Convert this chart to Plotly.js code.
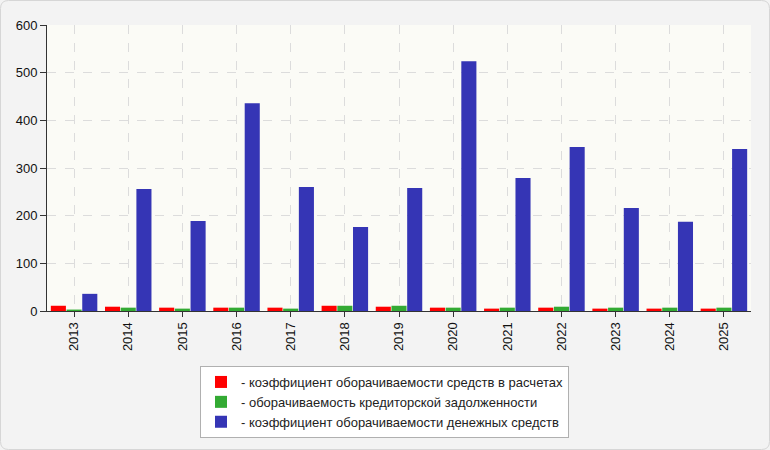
<!DOCTYPE html>
<html><head><meta charset="utf-8">
<script src="https://cdn.plot.ly/plotly-3.0.1.min.js"></script>
<style>body{margin:0;background:#fff}#c{width:770px;height:450px}</style>
</head><body><div id="c"></div>
<script>
var years = ['2013','2014','2015','2016','2017','2018','2019','2020','2021','2022','2023','2024','2025'];
var seriesNames = ['- коэффициент оборачиваемости средств в расчетах','- оборачиваемость кредиторской задолженности','- коэффициент оборачиваемости денежных средств'];
var receivablesTurnover = [11, 9, 7, 7, 7, 11, 9, 7, 5, 7, 5, 5, 5];
var payablesTurnover = [3, 7, 5, 7, 5, 11, 11, 7, 7, 9, 7, 7, 7];
var cashTurnover = [36, 256, 189, 436, 260, 176, 258, 524, 279, 344, 216, 187, 340];
var yTicks = [0, 100, 200, 300, 400, 500, 600];

var colors = ['#ff0000', '#33aa33', '#3535b5'];
var vals = [receivablesTurnover, payablesTurnover, cashTurnover];
var traces = vals.map(function(v, i){
  return {type:'bar', x: years, y: v, name: seriesNames[i], marker:{color: colors[i], line:{width:0}}, hoverinfo:'y'};
});

var W = 770, H = 450, r = 8;
var pl = 47, pr = 19, pt = 25, pb = 139;
var pw = W - pl - pr, ph = H - pt - pb;

var layout = {
  width: W, height: H,
  margin: {l:pl, r:pr, t:pt, b:pb},
  paper_bgcolor: '#f3f3f3',
  plot_bgcolor: '#fbfbf6',
  font: {family: '"Liberation Sans", Arial, sans-serif', size: 13, color: '#111'},
  barmode: 'group',
  bargap: 0.13,
  bargroupgap: 0.04,
  showlegend: true,
  legend: {x: (384.5 - pl)/pw, xanchor: 'center', y: (H - pb - 366)/ph, yanchor: 'top', bgcolor: '#ffffff', bordercolor: '#b0b0b0', borderwidth: 1, font: {size: 13, color: '#222'}, tracegroupgap: 0, itemwidth: 30},
  xaxis: {type:'category', tickangle: -90, showline: true, linecolor: '#333', linewidth: 1, ticks: 'outside', ticklen: 5, tickcolor: '#333',
          showgrid: true, gridcolor: '#dcdcdc', griddash: 'dash', gridwidth: 1, range: [-0.5, 12.5], tickfont:{size:13, color:'#111'}},
  yaxis: {range: [0, 600], tickvals: yTicks, showline: true, linecolor: '#333', linewidth: 1, ticks: 'outside', ticklen: 6, tickcolor: '#333',
          showgrid: true, gridcolor: '#dcdcdc', griddash: 'dash', gridwidth: 1, zeroline: false, tickfont:{size:13, color:'#111'}},
  shapes: []
};
(function(){
  function fx(px){ return (px - pl)/pw; }
  function fy(py){ return (H - pb - py)/ph; }
  var x0 = fx(0.5), x1 = fx(W-0.5), y0 = fy(H-0.5), y1 = fy(0.5);
  var dx = r/pw, dy = r/ph;
  var p = 'M '+(x0+dx)+' '+y1+' L '+(x1-dx)+' '+y1+' Q '+x1+' '+y1+' '+x1+' '+(y1-dy)+
    ' L '+x1+' '+(y0+dy)+' Q '+x1+' '+y0+' '+(x1-dx)+' '+y0+' L '+(x0+dx)+' '+y0+' Q '+x0+' '+y0+' '+x0+' '+(y0+dy)+
    ' L '+x0+' '+(y1-dy)+' Q '+x0+' '+y1+' '+(x0+dx)+' '+y1+' Z';
  layout.shapes.push({type:'path', xref:'paper', yref:'paper', path: p, line:{color:'#d6d6d6', width:1}, fillcolor:'rgba(0,0,0,0)', layer:'below'});
})();
Plotly.newPlot('c', traces, layout, {displayModeBar: false, staticPlot: true});
</script></body></html>
